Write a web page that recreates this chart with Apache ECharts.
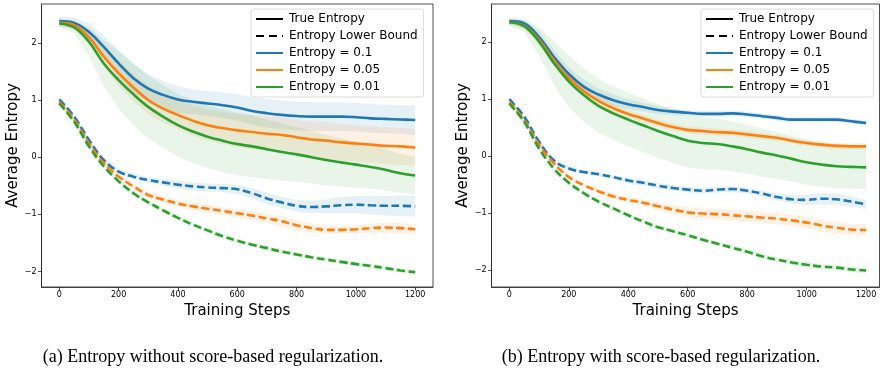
<!DOCTYPE html>
<html>
<head>
<meta charset="utf-8">
<script src="https://cdn.jsdelivr.net/npm/echarts@6/dist/echarts.min.js"></script>
<style>
  html, body { margin: 0; padding: 0; background: #fff; }
  #chart { width: 883px; height: 369px; }
</style>
</head>
<body>
<div id="chart"></div>
<script>
// training steps (x)
const steps = [0, 50, 100, 150, 200, 250, 300, 350, 400, 450, 500, 550, 600,
  650, 700, 750, 800, 850, 900, 950, 1000, 1050, 1100, 1150, 1200];
const xTicks = [0, 200, 400, 600, 800, 1000, 1200];
const yTicks = [-2, -1, 0, 1, 2];

// (a) without score-based regularization - true entropy (mean / std)
const aTrue01 = [2.38, 2.35, 2.19, 1.93, 1.64, 1.38, 1.20, 1.09, 1.01, 0.97, 0.94, 0.91, 0.87, 0.81, 0.77, 0.74, 0.72, 0.71, 0.71, 0.71, 0.70, 0.68, 0.67, 0.66, 0.65];
const aTrue005 = [2.35, 2.31, 2.10, 1.76, 1.47, 1.22, 1.00, 0.85, 0.74, 0.64, 0.56, 0.51, 0.47, 0.44, 0.41, 0.39, 0.35, 0.31, 0.29, 0.26, 0.24, 0.22, 0.20, 0.19, 0.17];
const aTrue001 = [2.34, 2.27, 2.02, 1.64, 1.35, 1.10, 0.88, 0.71, 0.56, 0.45, 0.36, 0.29, 0.23, 0.19, 0.14, 0.09, 0.05, 0.00, -0.05, -0.09, -0.13, -0.17, -0.22, -0.28, -0.32];
const aTrue01Std = [0.08, 0.10, 0.14, 0.20, 0.24, 0.25, 0.25, 0.24, 0.23, 0.22, 0.22, 0.22, 0.23, 0.24, 0.25, 0.25, 0.25, 0.25, 0.25, 0.25, 0.25, 0.25, 0.25, 0.25, 0.26];
const aTrue005Std = [0.06, 0.08, 0.12, 0.18, 0.22, 0.24, 0.25, 0.25, 0.25, 0.26, 0.27, 0.28, 0.29, 0.30, 0.30, 0.31, 0.31, 0.31, 0.32, 0.32, 0.32, 0.32, 0.32, 0.32, 0.32];
const aTrue001Std = [0.06, 0.10, 0.25, 0.40, 0.50, 0.54, 0.55, 0.55, 0.55, 0.55, 0.55, 0.55, 0.55, 0.54, 0.52, 0.50, 0.48, 0.46, 0.44, 0.42, 0.40, 0.38, 0.36, 0.34, 0.33];
// (a) lower bound
const aLow01 = [1.01, 0.71, 0.30, -0.05, -0.25, -0.34, -0.40, -0.44, -0.48, -0.51, -0.53, -0.54, -0.56, -0.63, -0.72, -0.79, -0.85, -0.87, -0.86, -0.84, -0.83, -0.84, -0.85, -0.85, -0.86];
const aLow005 = [0.97, 0.66, 0.24, -0.10, -0.34, -0.51, -0.66, -0.74, -0.81, -0.86, -0.90, -0.94, -0.98, -1.02, -1.07, -1.12, -1.19, -1.24, -1.27, -1.27, -1.26, -1.24, -1.23, -1.24, -1.26];
const aLow001 = [0.94, 0.62, 0.19, -0.16, -0.42, -0.63, -0.79, -0.93, -1.06, -1.18, -1.28, -1.38, -1.46, -1.53, -1.59, -1.65, -1.70, -1.75, -1.79, -1.83, -1.87, -1.90, -1.94, -1.98, -2.01];
const aLow01Std = [0.03, 0.03, 0.04, 0.05, 0.05, 0.05, 0.05, 0.06, 0.07, 0.07, 0.07, 0.07, 0.08, 0.09, 0.10, 0.10, 0.10, 0.11, 0.12, 0.14, 0.15, 0.16, 0.17, 0.18, 0.18];
const aLow005Std = [0.03, 0.03, 0.04, 0.04, 0.04, 0.05, 0.06, 0.06, 0.06, 0.07, 0.07, 0.07, 0.07, 0.08, 0.08, 0.09, 0.09, 0.08, 0.07, 0.06, 0.07, 0.08, 0.09, 0.09, 0.09];
const aLow001Std = [0.03, 0.03, 0.04, 0.04, 0.04, 0.04, 0.04, 0.04, 0.04, 0.04, 0.04, 0.04, 0.04, 0.04, 0.04, 0.04, 0.04, 0.04, 0.04, 0.04, 0.04, 0.04, 0.04, 0.04, 0.04];

// (b) with score-based regularization - true entropy
const bTrue01 = [2.37, 2.33, 2.09, 1.74, 1.44, 1.22, 1.08, 0.98, 0.91, 0.86, 0.81, 0.78, 0.76, 0.74, 0.74, 0.75, 0.73, 0.70, 0.67, 0.64, 0.64, 0.64, 0.64, 0.61, 0.58];
const bTrue005 = [2.35, 2.29, 2.04, 1.68, 1.37, 1.14, 0.97, 0.84, 0.74, 0.66, 0.58, 0.51, 0.46, 0.44, 0.42, 0.41, 0.38, 0.35, 0.32, 0.27, 0.23, 0.20, 0.18, 0.17, 0.17];
const bTrue001 = [2.35, 2.28, 2.01, 1.63, 1.31, 1.07, 0.88, 0.75, 0.64, 0.54, 0.44, 0.35, 0.27, 0.23, 0.21, 0.17, 0.12, 0.06, 0.01, -0.05, -0.11, -0.15, -0.18, -0.19, -0.20];
const bTrue01Std = [0.06, 0.08, 0.10, 0.12, 0.12, 0.12, 0.11, 0.10, 0.09, 0.08, 0.07, 0.06, 0.05, 0.05, 0.05, 0.05, 0.05, 0.05, 0.05, 0.04, 0.04, 0.04, 0.04, 0.04, 0.04];
const bTrue005Std = [0.05, 0.06, 0.08, 0.10, 0.10, 0.10, 0.09, 0.08, 0.07, 0.06, 0.06, 0.06, 0.06, 0.06, 0.06, 0.06, 0.06, 0.06, 0.05, 0.05, 0.05, 0.05, 0.05, 0.05, 0.05];
const bTrue001Std = [0.06, 0.10, 0.25, 0.38, 0.45, 0.47, 0.47, 0.47, 0.47, 0.47, 0.47, 0.47, 0.47, 0.46, 0.45, 0.44, 0.43, 0.42, 0.41, 0.40, 0.40, 0.39, 0.39, 0.38, 0.38];
// (b) lower bound
const bLow01 = [1.00, 0.69, 0.25, -0.08, -0.22, -0.28, -0.32, -0.37, -0.43, -0.47, -0.52, -0.56, -0.59, -0.61, -0.59, -0.58, -0.61, -0.66, -0.72, -0.76, -0.77, -0.75, -0.76, -0.80, -0.85];
const bLow005 = [0.95, 0.63, 0.20, -0.13, -0.37, -0.51, -0.62, -0.71, -0.77, -0.82, -0.88, -0.94, -0.99, -1.01, -1.02, -1.04, -1.06, -1.08, -1.10, -1.13, -1.17, -1.22, -1.26, -1.29, -1.30];
const bLow001 = [0.92, 0.60, 0.13, -0.22, -0.47, -0.65, -0.80, -0.92, -1.04, -1.15, -1.25, -1.32, -1.39, -1.47, -1.54, -1.61, -1.68, -1.76, -1.82, -1.87, -1.91, -1.94, -1.96, -1.99, -2.01];
const bLow01Std = [0.03, 0.03, 0.04, 0.04, 0.04, 0.04, 0.04, 0.04, 0.05, 0.05, 0.05, 0.05, 0.05, 0.05, 0.05, 0.05, 0.05, 0.05, 0.06, 0.07, 0.09, 0.10, 0.10, 0.09, 0.08];
const bLow005Std = [0.03, 0.03, 0.04, 0.04, 0.04, 0.04, 0.05, 0.05, 0.05, 0.06, 0.07, 0.08, 0.09, 0.10, 0.10, 0.10, 0.10, 0.10, 0.10, 0.10, 0.10, 0.10, 0.10, 0.10, 0.10];
const bLow001Std = [0.04, 0.04, 0.04, 0.04, 0.04, 0.04, 0.04, 0.04, 0.04, 0.04, 0.04, 0.04, 0.04, 0.04, 0.04, 0.04, 0.05, 0.05, 0.05, 0.05, 0.05, 0.05, 0.05, 0.05, 0.05];

const BLUE = '#1f77b4', ORANGE = '#ff7f0e', GREEN = '#2ca02c';
const FADE = { [BLUE]: 'rgba(31,119,180,0.11)', [ORANGE]: 'rgba(255,127,14,0.11)', [GREEN]: 'rgba(44,160,44,0.11)' };
const LEGEND_NAMES = ['True Entropy', 'Entropy Lower Bound', 'Entropy = 0.1', 'Entropy = 0.05', 'Entropy = 0.01'];
const LW = 2.6; // line width
const DASH = [8, 3.6];

const pairs = (ys) => steps.map((s, i) => [s, ys[i]]);

// shaded mean ± std band, drawn as one polygon through the axis scales
let bandId = 0;
const band = (idx, mean, std, color) => ({
  name: 'band' + (bandId++), type: 'custom', xAxisIndex: idx, yAxisIndex: idx,
  silent: true, z: 1, data: [[steps[0], mean[0]]],
  renderItem: (params, api) => {
    const upper = steps.map((s, i) => api.coord([s, mean[i] + std[i]]));
    const lower = steps.map((s, i) => api.coord([s, mean[i] - std[i]])).reverse();
    return { type: 'polygon', shape: { points: upper.concat(lower) }, style: { fill: FADE[color] } };
  }
});

const line = (idx, name, ys, color, dashed) => ({
  name: name, type: 'line', xAxisIndex: idx, yAxisIndex: idx,
  data: pairs(ys), symbol: 'none', smooth: 0.4, z: 3,
  itemStyle: { color: color },
  lineStyle: { color: color, width: LW, type: dashed ? DASH : 'solid' }
});

const panels = [
  { t: [aTrue01, aTrue005, aTrue001], ts: [aTrue01Std, aTrue005Std, aTrue001Std],
    l: [aLow01, aLow005, aLow001], ls: [aLow01Std, aLow005Std, aLow001Std] },
  { t: [bTrue01, bTrue005, bTrue001], ts: [bTrue01Std, bTrue005Std, bTrue001Std],
    l: [bLow01, bLow005, bLow001], ls: [bLow01Std, bLow005Std, bLow001Std] }
];
const colors = [BLUE, ORANGE, GREEN];

let series = [];
// legend-only entries for the two line styles
series.push({ name: 'True Entropy', type: 'line', data: [], symbol: 'none',
  itemStyle: { color: '#000' }, lineStyle: { color: '#000', width: LW } });
series.push({ name: 'Entropy Lower Bound', type: 'line', data: [], symbol: 'none',
  itemStyle: { color: '#000' }, lineStyle: { color: '#000', width: LW, type: [8, 5] } });

panels.forEach((p, idx) => {
  colors.forEach((c, k) => {
    series.push(band(idx, p.t[k], p.ts[k], c));
    series.push(band(idx, p.l[k], p.ls[k], c));
  });
  colors.forEach((c, k) => {
    series.push(line(idx, LEGEND_NAMES[2 + k], p.t[k], c, false));
  });
  colors.forEach((c, k) => {
    series.push(line(idx, 'lb' + idx + '_' + k, p.l[k], c, true));
  });
});

const minus = (v) => String(v).replace('-', '\u2212');
const tickFont = { fontFamily: 'DejaVu Sans', fontSize: 8, color: '#000' };

const xAxisOf = (idx, max) => ({
  type: 'value', gridIndex: idx, min: -60, max: max,
  name: 'Training Steps', nameLocation: 'middle', nameGap: 16,
  nameTextStyle: { fontFamily: 'DejaVu Sans', fontSize: 15, color: '#000' },
  axisLine: { show: true, onZero: false, lineStyle: { color: '#222', width: 0.8 } },
  axisTick: { show: true, length: 3.5, customValues: xTicks, lineStyle: { color: '#222', width: 0.8 } },
  axisLabel: Object.assign({ margin: 4, customValues: xTicks, formatter: minus }, tickFont),
  splitLine: { show: false }
});
const yAxisOf = (idx, min, max) => ({
  type: 'value', gridIndex: idx, min: min, max: max,
  name: 'Average Entropy', nameLocation: 'middle', nameGap: 20,
  nameTextStyle: { fontFamily: 'DejaVu Sans', fontSize: 15, color: '#000' },
  axisLine: { show: true, onZero: false, lineStyle: { color: '#222', width: 0.8 } },
  axisTick: { show: true, length: 3.5, customValues: yTicks, lineStyle: { color: '#222', width: 0.8 } },
  axisLabel: Object.assign({ margin: 5, customValues: yTicks, formatter: minus }, tickFont),
  splitLine: { show: false }
});

const legendOf = (left) => ({
  data: LEGEND_NAMES, orient: 'vertical', left: left, top: 9,
  itemWidth: 27, itemHeight: 14, itemGap: 5, padding: [4, 6, 4, 4],
  itemStyle: { opacity: 0 },
  backgroundColor: 'rgba(255,255,255,0.8)', borderColor: '#d0d0d0', borderWidth: 0.8, borderRadius: 3,
  textStyle: { fontFamily: 'DejaVu Sans', fontSize: 12, color: '#000', padding: [0, 0, 0, 1] },
  selectedMode: false
});

const captionStyle = { fontFamily: 'Liberation Serif', fontSize: 18, fontWeight: 'normal', color: '#000' };

const chart = echarts.init(document.getElementById('chart'), null, { renderer: 'canvas' });
chart.setOption({
  animation: false,
  backgroundColor: '#fff',
  title: [
    { text: '(a) Entropy without score-based regularization.', left: 208, top: 343, textAlign: 'center', textStyle: captionStyle },
    { text: '(b) Entropy with score-based regularization.', left: 656, top: 343, textAlign: 'center', textStyle: captionStyle }
  ],
  grid: [
    { left: 41.5, top: 4, width: 391.5, height: 283, show: true, borderColor: '#222', borderWidth: 0.8, backgroundColor: 'transparent' },
    { left: 491.5, top: 4, width: 388, height: 283, show: true, borderColor: '#222', borderWidth: 0.8, backgroundColor: 'transparent' }
  ],
  xAxis: [xAxisOf(0, 1260), xAxisOf(1, 1245)],
  yAxis: [yAxisOf(0, -2.27, 2.68), yAxisOf(1, -2.3, 2.67)],
  legend: [legendOf(251), legendOf(701)],
  series: series
});
window.addEventListener('resize', () => chart.resize());
</script>
</body>
</html>
